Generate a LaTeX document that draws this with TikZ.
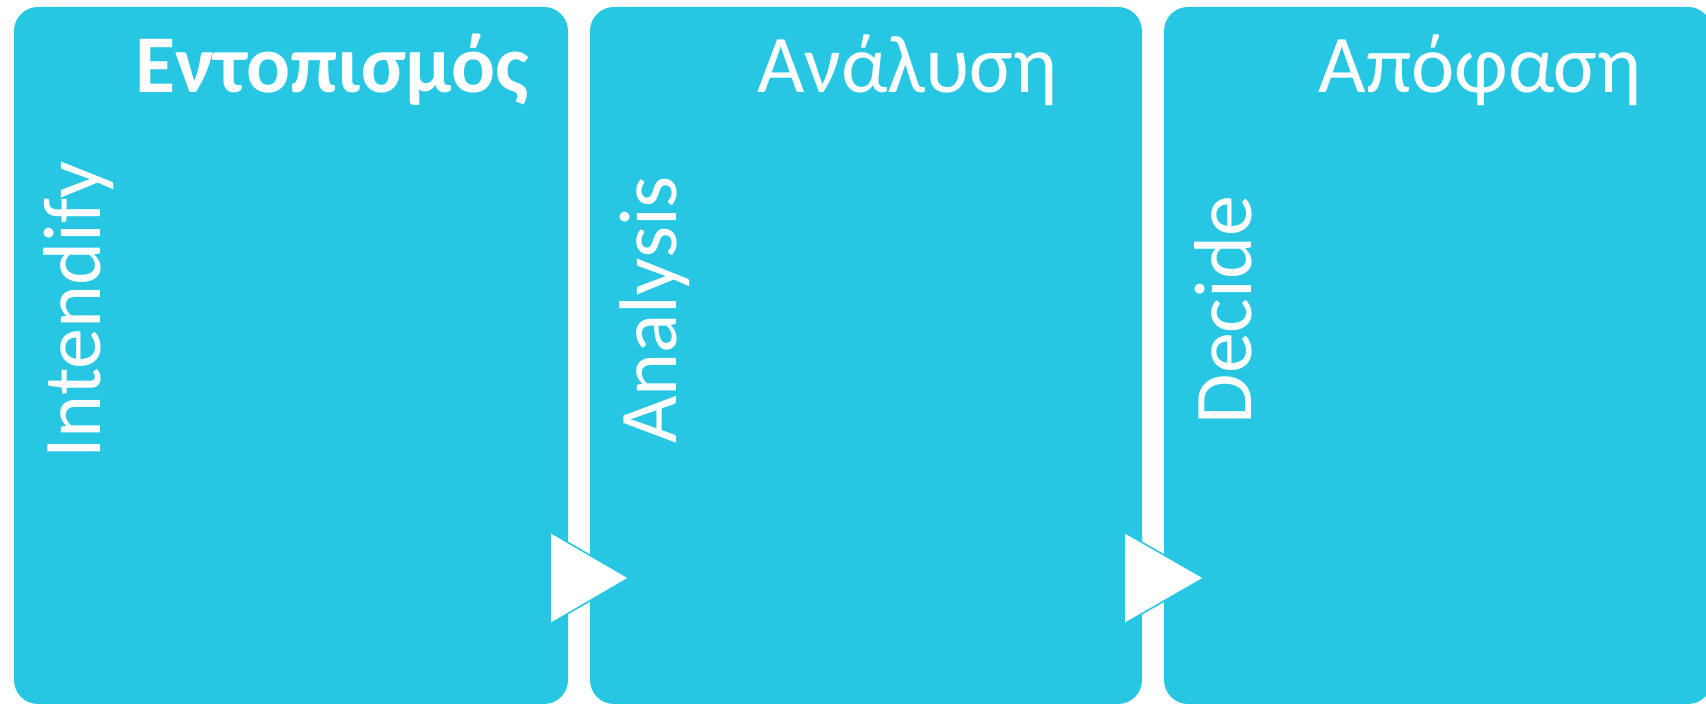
\documentclass[tikz,border=0pt]{standalone}
\usepackage{fontspec}
\setmainfont{Carlito}
\definecolor{boxcyan}{HTML}{27C6E3}
\begin{document}
\begin{tikzpicture}[x=0.5pt,y=-0.5pt,
  box/.style={fill=boxcyan, draw=none, rounded corners=12pt, inner sep=0pt, outer sep=0pt, anchor=north west, minimum height=348.5pt},
  titletext/.style={text=white, font=\fontsize{41pt}{49pt}\selectfont, anchor=base, inner sep=0pt},
  sidetext/.style={text=white, font=\fontsize{41pt}{49pt}\selectfont, anchor=base, rotate=90, inner sep=0pt},
  arrowtri/.style={fill=white, draw=boxcyan, line width=0.8pt, line join=miter}]
\useasboundingbox (0,0) rectangle (1706,704);
\clip (0,0) rectangle (1706,704);
\node[box, minimum width=277pt] (b1) at (14,7) {};
\node[box, minimum width=276pt] (b2) at (590,7) {};
\node[box, minimum width=274pt] (b3) at (1164,7) {};
\node[titletext, font=\fontsize{41pt}{49pt}\selectfont\bfseries] (t1) at (332,93) {Εντοπισμός};
\node[titletext] (t2) at (907,93) {Ανάλυση};
\node[titletext] (t3) at (1480,93) {Απόφαση};
\node[sidetext] (s1) at (100,310) {Intendify};
\node[sidetext] (s2) at (676,310) {Analysis};
\node[sidetext] (s3) at (1251,310) {Decide};
\coordinate (a1t) at (550,532);
\coordinate (a1p) at (629,578);
\coordinate (a1b) at (550,624);
\coordinate (a2t) at (1124,532);
\coordinate (a2p) at (1204,578);
\coordinate (a2b) at (1124,624);
\draw[arrowtri] (a1t) -- (a1p) -- (a1b) -- cycle;
\draw[arrowtri] (a2t) -- (a2p) -- (a2b) -- cycle;
\end{tikzpicture}
\end{document}
